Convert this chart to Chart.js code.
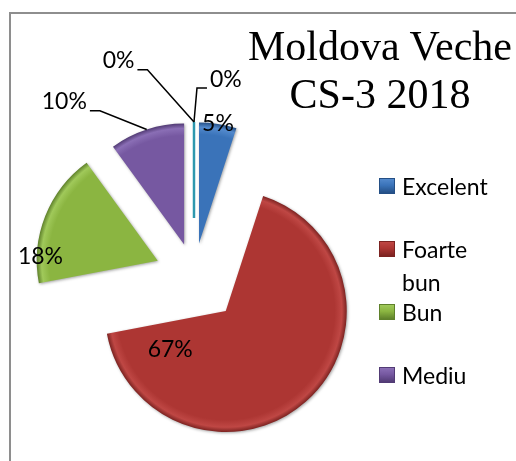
<!DOCTYPE html>
<html>
<head>
<meta charset="utf-8">
<script src="https://cdn.jsdelivr.net/npm/chart.js@4/dist/chart.umd.min.js"></script>
<style>
  html, body { margin: 0; padding: 0; background: #fff; }
  body { width: 516px; height: 461px; position: relative; overflow: hidden; }
  #frame { position: absolute; left: 9px; top: 12px; width: 530px; height: 470px;
           border-left: 2px solid #8e8e8e; border-top: 2px solid #8e8e8e; }
  #wrap { position: absolute; left: 0; top: 0; width: 516px; height: 461px; }
  #title { position: absolute; left: 230px; top: 22px; width: 300px; text-align: center;
           font-family: "Liberation Serif", "Times New Roman", serif; font-size: 42px;
           line-height: 48px; color: #000; }
  #legend { position: absolute; left: 379px; top: 170px; font-family: Lato, sans-serif;
            font-size: 23px; line-height: 33px; color: #000; }
  .item { display: flex; align-items: flex-start; height: 63px; }
  .box { width: 16px; height: 16px; margin-top: 8px; margin-right: 7px; box-sizing: border-box; flex: none; }
  .txt { width: 96px; }
</style>
</head>
<body>
<div id="frame"></div>
<div id="wrap"><canvas id="pie"></canvas></div>
<div id="title">Moldova Veche<br>CS-3 2018</div>
<div id="legend"></div>
<script>
// categorii si procente
const categories = ['Excelent', 'Foarte bun', 'Bun', 'Mediu', 'Satisfăcător', 'Insuficient'];
const shares = [5, 67, 18, 10, 0, 0];
const legendCount = 4; // doar primele 4 apar in legenda

const colors = ['#3a73b9', '#ad3633', '#8bb541', '#7658a1', '#2e98ae', '#f79646'];
const rimColors = ['#5289cc', '#bf4744', '#a0c95a', '#8a6eb5', '#4bacc6', '#f9a869'];
const edgeColors = ['#244f85', '#7c2321', '#5f812b', '#523b75', '#1f7686', '#c87530'];
// cat de departe e scoasa fiecare felie (px)
const explode = [32, 48, 39, 32, 32, 32];

// pozitia etichetelor: frac = pozitie in felie, deg = unghi absolut, r = fata de raza
const labelPos = [
  { frac: 0.5, r: 1.0 },
  { frac: 0.9, r: 0.56 },
  { frac: 0.2, r: 0.97 },
  { deg: 320, r: 1.54, leader: true },
  { deg: 337.5, r: 1.63, leader: true, sliver: true },
  { deg: 11, r: 1.38, leader: true }
];

// legenda HTML
const legendEl = document.getElementById('legend');
categories.slice(0, legendCount).forEach((c, i) => {
  const it = document.createElement('div');
  it.className = 'item';
  const b = document.createElement('div');
  b.className = 'box';
  b.style.background = 'linear-gradient(to bottom, ' + rimColors[i] + ' 0%, ' + colors[i] + ' 45%, ' + edgeColors[i] + ' 100%)';
  b.style.border = '1px solid ' + edgeColors[i];
  const t = document.createElement('div');
  t.className = 'txt';
  t.textContent = c;
  it.appendChild(b);
  it.appendChild(t);
  legendEl.appendChild(it);
});

function vertexOf(arc, i) {
  const mid = (arc.startAngle + arc.endAngle) / 2;
  return { x: arc.x + Math.cos(mid) * explode[i], y: arc.y + Math.sin(mid) * explode[i], mid };
}

// felii scoase din centru: le desenam mutate, cu margine in relief
const explodePlugin = {
  id: 'explode',
  beforeDatasetDraw(chart, args) {
    const ctx = chart.ctx;
    args.meta.data.forEach((arc, i) => {
      if (!shares[i]) return;
      const v = vertexOf(arc, i);
      const g = ctx.createRadialGradient(arc.x, arc.y, 0, arc.x, arc.y, arc.outerRadius);
      g.addColorStop(0, colors[i]);
      g.addColorStop(0.9, colors[i]);
      g.addColorStop(0.96, rimColors[i]);
      g.addColorStop(1, edgeColors[i]);
      try { arc.options.backgroundColor = g; } catch (e) { /* optiuni inghetate */ }
      ctx.save();
      ctx.translate(v.x - arc.x, v.y - arc.y);
      ctx.shadowColor = 'rgba(0,0,0,0.35)';
      ctx.shadowBlur = 3;
      ctx.shadowOffsetX = 1;
      ctx.shadowOffsetY = 1;
      arc.draw(ctx);
      ctx.restore();
    });
    return false;
  }
};

const pieLabels = {
  id: 'pieLabels',
  afterDatasetsDraw(chart) {
    const ctx = chart.ctx;
    const meta = chart.getDatasetMeta(0);
    ctx.save();
    ctx.font = '23px Lato, sans-serif';
    ctx.textAlign = 'center';
    ctx.textBaseline = 'middle';
    meta.data.forEach((arc, i) => {
      const v = vertexOf(arc, i);
      const R = arc.outerRadius;
      const circ = arc.endAngle - arc.startAngle;
      const cfg = labelPos[i];

      if (cfg.sliver) {
        ctx.strokeStyle = colors[i];
        ctx.lineWidth = 2.5;
        ctx.beginPath();
        ctx.moveTo(v.x, v.y - 25);
        ctx.lineTo(v.x + Math.cos(v.mid) * R, v.y + Math.sin(v.mid) * R);
        ctx.stroke();
      }

      let a;
      if (cfg.deg !== undefined) a = cfg.deg * Math.PI / 180 - Math.PI / 2;
      else a = arc.startAngle + cfg.frac * circ;
      const lx = v.x + Math.cos(a) * R * cfg.r;
      const ly = v.y + Math.sin(a) * R * cfg.r;
      const txt = shares[i] + '%';
      ctx.fillStyle = '#000';
      ctx.fillText(txt, lx, ly);

      if (cfg.leader) {
        const w = ctx.measureText(txt).width;
        const ex = v.x + Math.cos(v.mid) * R;
        const ey = v.y + Math.sin(v.mid) * R;
        const dir = lx < ex ? 1 : -1;
        const ax = lx + dir * (w / 2 + 3);
        const ay = ly + 9;
        ctx.strokeStyle = '#000';
        ctx.lineWidth = 1.5;
        ctx.beginPath();
        ctx.moveTo(ax, ay);
        ctx.lineTo(ax + dir * 10, ay);
        ctx.lineTo(ex, ey);
        ctx.stroke();
      }
    });
    ctx.restore();
  }
};

new Chart(document.getElementById('pie'), {
  type: 'pie',
  data: {
    labels: categories,
    datasets: [{
      data: shares,
      backgroundColor: (c) => colors[c.dataIndex],
      borderWidth: 0,
      offset: 0
    }]
  },
  options: {
    responsive: true,
    maintainAspectRatio: false,
    animation: false,
    events: [],
    radius: 121,
    layout: { padding: { left: 0, top: 89, right: 128, bottom: 0 } },
    plugins: {
      legend: { display: false },
      title: { display: false },
      tooltip: { enabled: false }
    }
  },
  plugins: [explodePlugin, pieLabels]
});
</script>
</body>
</html>
